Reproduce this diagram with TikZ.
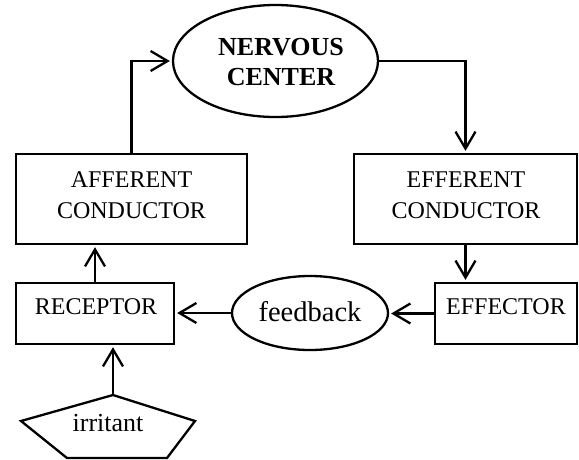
\documentclass[tikz,border=0pt]{standalone}
\usepackage{fontspec}
\setmainfont{Liberation Serif}
\usetikzlibrary{shapes.geometric,arrows.meta}
\begin{document}
\begin{tikzpicture}[x=1pt,y=-1pt,
  box/.style={draw,line width=2.3pt,inner sep=0pt},
  oval/.style={draw,ellipse,line width=2.3pt,inner sep=0pt},
  txt/.style={align=center,inner sep=0pt,font=\fontsize{24}{31}\selectfont},
  conn/.style={line width=2.3pt,-{Straight Barb[length=17pt,width=20pt,line width=2.3pt]},shorten >=2pt}
]
\useasboundingbox (0,0) rectangle (579,459);
% shapes
\node[oval,minimum width=205pt,minimum height=112pt] (nc) at (275.5,61) {};
\node[inner sep=0pt,align=center,font=\fontsize{26}{30}\selectfont\bfseries] (nct) at (281,62) {NERVOUS\\CENTER};
\node[box,minimum width=231pt,minimum height=90pt] (aff) at (131.5,199) {};
\node[txt] (afft) at (131.5,195.5) {AFFERENT\\CONDUCTOR};
\node[box,minimum width=223pt,minimum height=90pt] (eff) at (465.5,199) {};
\node[txt] (efft) at (466,195.5) {EFFERENT\\CONDUCTOR};
\node[box,minimum width=158pt,minimum height=61pt] (rec) at (95,313.5) {};
\node[txt] (rect) at (96,307) {RECEPTOR};
\node[box,minimum width=142pt,minimum height=61pt] (eft) at (506,313.5) {};
\node[txt] (eftt) at (506,307) {EFFECTOR};
\node[oval,minimum width=156pt,minimum height=74pt] (fb) at (310,313) {};
\node[inner sep=0pt,font=\fontsize{28.5}{34}\selectfont] (fbt) at (310,312) {feedback};
\coordinate (irrtop) at (113,395);
\draw[line width=2.3pt] (irrtop) -- (195,421) -- (167,458) -- (67,458) -- (21,421) -- cycle;
\node[inner sep=0pt,font=\fontsize{26}{30}\selectfont] (irr) at (108,423) {irritant};
% connectors
\draw[conn] (aff.north) |- (nc.west);
\draw[conn] (nc.east) -| (eff.north);
\draw[conn] (eff.south) -- (eff.south |- eft.north);
\draw[conn] (eft.west) -- (eft.west -| fb.east);
\draw[conn] (fb.west) -- (fb.west -| rec.east);
\draw[conn] (rec.north) -- (rec.north |- aff.south);
\draw[conn] (irrtop) -- (irrtop |- rec.south);
\end{tikzpicture}
\end{document}
